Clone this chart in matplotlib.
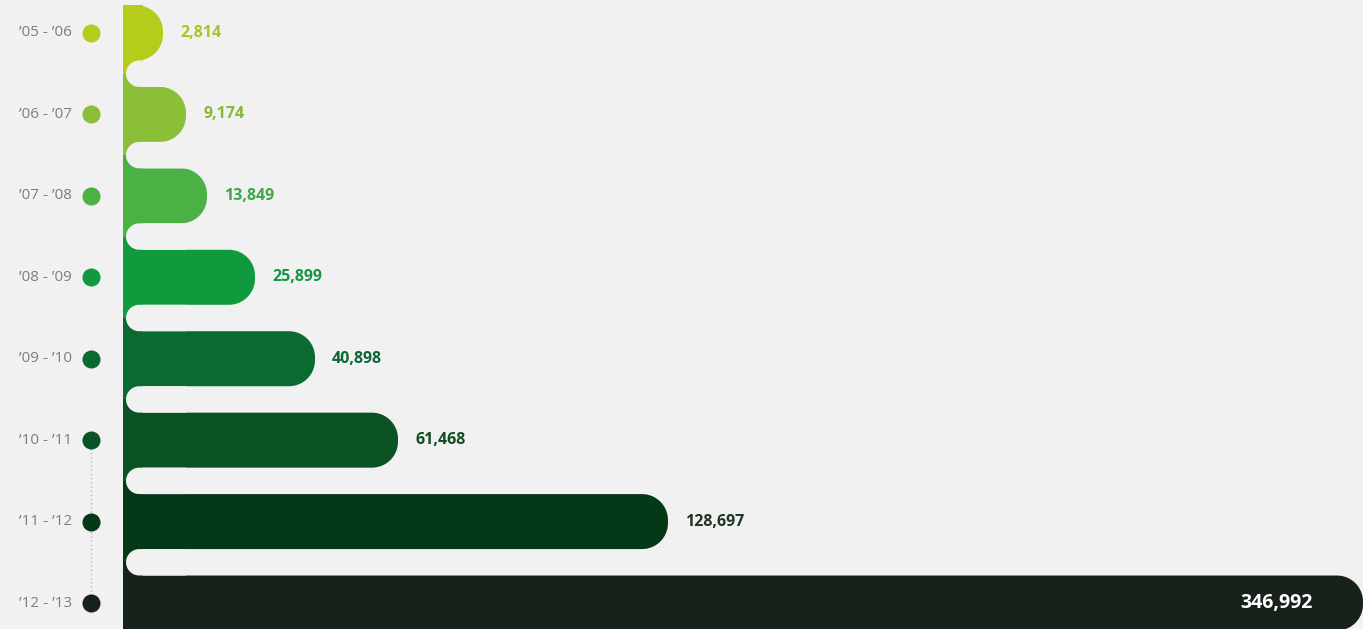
import matplotlib
matplotlib.use("Agg")
import numpy as np
import matplotlib.pyplot as plt
from matplotlib.patches import Polygon, Rectangle

# seasons and totals
seasons = ["’05 - ’06", "’06 - ’07", "’07 - ’08", "’08 - ’09",
           "’09 - ’10", "’10 - ’11", "’11 - ’12", "’12 - ’13"]
totals = [2814, 9174, 13849, 25899, 40898, 61468, 128697, 346992]
# bar lengths as drawn in the graphic (not proportional to totals)
bar_len = [40, 63, 84, 132, 192, 275, 545, 1240]

bar_colors = ["#b5cc1a", "#8bbf38", "#4cb145", "#0f9a3e",
              "#0a6a31", "#0b5325", "#053816", "#16221a"]
text_colors = ["#a9c42a", "#86b83a", "#3ea647", "#139642",
               "#0d6633", "#104d25", "#1f3526", "#ffffff"]
bg = "#f1f1f1"

plt.rcParams['font.family'] = ['Open Sans', 'DejaVu Sans']

fig = plt.figure(figsize=(13.63, 6.29), dpi=100)
fig.patch.set_facecolor(bg)
ax = fig.add_axes([123 / 1363, 0, 1240 / 1363, 1])
ax.set_facecolor(bg)
ax.set_xlim(0, 1240)
ax.set_ylim(7.319, -0.405)
ax.axis("off")

px_y = 81.43          # pixels per row
asp = 1 / px_y        # x unit = 1 px
bar_h = 55 / px_y
gap = 1 - bar_h
n = len(totals)


def right_round(x0, y0, w, h, r):
    # box with round right end (circular corners, r in px)
    r = min(r, w, h / asp / 2)
    t = np.linspace(-np.pi / 2, 0, 16)
    top = np.c_[x0 + w - r + r * np.cos(t), y0 + r * asp + r * asp * np.sin(t)]
    t = np.linspace(0, np.pi / 2, 16)
    bot = np.c_[x0 + w - r + r * np.cos(t), y0 + h - r * asp + r * asp * np.sin(t)]
    pts = np.vstack([[x0, y0], top, bot, [x0, y0 + h]])
    return pts


def left_round(x0, y0, w, h):
    # pill with semicircular left end
    r = h / asp / 2
    t = np.linspace(np.pi / 2, 3 * np.pi / 2, 24)
    arc = np.c_[x0 + r + r * np.cos(t), y0 + h / 2 - r * asp * np.sin(t)]
    return np.vstack([arc, [x0 + w, y0 + h], [x0 + w, y0]])


for i, (L, c) in enumerate(zip(bar_len, bar_colors)):
    top = i - bar_h / 2
    ax.add_patch(Polygon(right_round(0, top, L, bar_h, 26), closed=True,
                         fc=c, ec="none", zorder=2))
    # left side reaching into half of each gap
    y0 = top if i == 0 else i - 0.5
    y1 = i + bar_h / 2 if i == n - 1 else i + 0.5
    ax.add_patch(Rectangle((0, y0), 20, y1 - y0, fc=c, ec="none", zorder=2))

# carve the gaps with rounded left ends
for i in range(n - 1):
    g0 = i + bar_h / 2
    ax.add_patch(Polygon(left_round(3, g0, 60, gap), closed=True,
                         fc=bg, ec="none", zorder=3))

# value labels
for i, (L, v, tc) in enumerate(zip(bar_len, totals, text_colors)):
    if i == n - 1:
        ax.text(1190, i, f"{v:,}", ha="right", va="center", color=tc,
                fontsize=14, fontweight="bold", zorder=5)
    else:
        ax.text(L + 17, i, f"{v:,}", ha="left", va="center", color=tc,
                fontsize=11.5, fontweight="bold", zorder=5)

# dotted connector between the last three dots
ax.plot([-32, -32], [5, 7], ls=(0, (1, 2)), color="#b5b5b5", lw=1,
        clip_on=False, zorder=1)

# season labels and dots
for i, (s, c) in enumerate(zip(seasons, bar_colors)):
    ax.plot([-32], [i], "o", ms=13, color=c, mec="none", clip_on=False, zorder=4)
    ax.text(-51, i, s, ha="right", va="center", color="#7d7d7d",
            fontsize=11, clip_on=False)

fig.savefig("out.png", dpi=100, facecolor=bg)
